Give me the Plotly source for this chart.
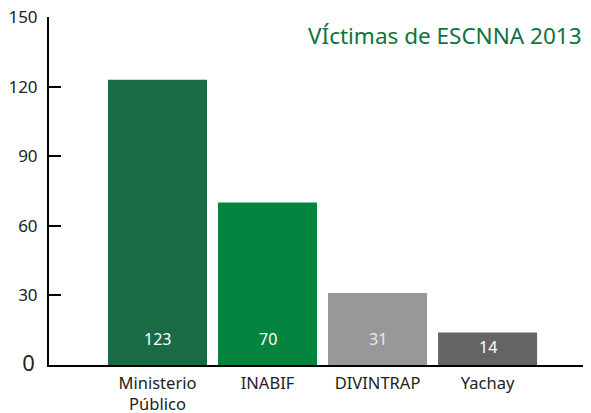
import plotly.graph_objects as go

categories = ["Ministerio<br>Público", "INABIF", "DIVINTRAP", "Yachay"]
values = [123, 70, 31, 14]
colors = ["#196B45", "#03853F", "#97989A", "#646464"]
label_colors = ["#FFFFFF", "#FFFFFF", "#E8E8E8", "#FFFFFF"]
y_ticks = [0, 30, 60, 90, 120, 150]
title_text = "VÍctimas de ESCNNA 2013"

fig = go.Figure()
fig.add_trace(go.Bar(
    x=list(range(len(categories))),
    y=values,
    width=0.9,
    marker=dict(color=colors, line=dict(width=0)),
    hoverinfo="skip",
))

for i, v in enumerate(values):
    fig.add_annotation(
        x=i, y=min(11, v * 0.55), xref="x", yref="y",
        text=str(v), showarrow=False,
        font=dict(family="Noto Sans", size=16, color=label_colors[i]),
        xanchor="center", yanchor="middle",
    )

fig.add_annotation(
    x=1, xref="paper", xshift=-7, y=142, yref="y",
    text=title_text, showarrow=False,
    font=dict(family="Noto Sans", size=22.5, color="#0E7340"),
    xanchor="right", yanchor="middle",
)

ticktext = [("<span style='font-size:22px'>0</span>&#8201;" if t == 0 else str(t)) for t in y_ticks]

# page body has an 8px default margin, so the figure is sized to fit the window
fig.update_layout(
    width=583, height=405,
    margin=dict(l=41, r=0, t=9, b=48, autoexpand=False),
    paper_bgcolor="white", plot_bgcolor="white",
    showlegend=False,
    bargap=0.1,
    xaxis=dict(
        range=[-0.986, 3.94],
        tickvals=list(range(len(categories))),
        ticktext=categories,
        showline=True, linecolor="#000000", linewidth=2,
        showgrid=False, zeroline=False, ticks="",
        tickfont=dict(family="Noto Sans", size=16.5, color="#222222"),
        ticklabelstandoff=2,
        ticklabeloverflow="allow",
        automargin=False,
        fixedrange=True,
    ),
    yaxis=dict(
        range=[0, 150],
        tickvals=y_ticks, ticktext=ticktext,
        showline=True, linecolor="#000000", linewidth=2,
        showgrid=False, zeroline=False,
        ticks="inside", ticklen=12, tickwidth=2, tickcolor="#000000",
        tickfont=dict(family="Noto Sans", size=17, color="#222222"),
        ticklabelstandoff=6,
        ticklabeloverflow="allow",
        automargin=False,
        fixedrange=True,
    ),
)

fig.write_html("out.html")
